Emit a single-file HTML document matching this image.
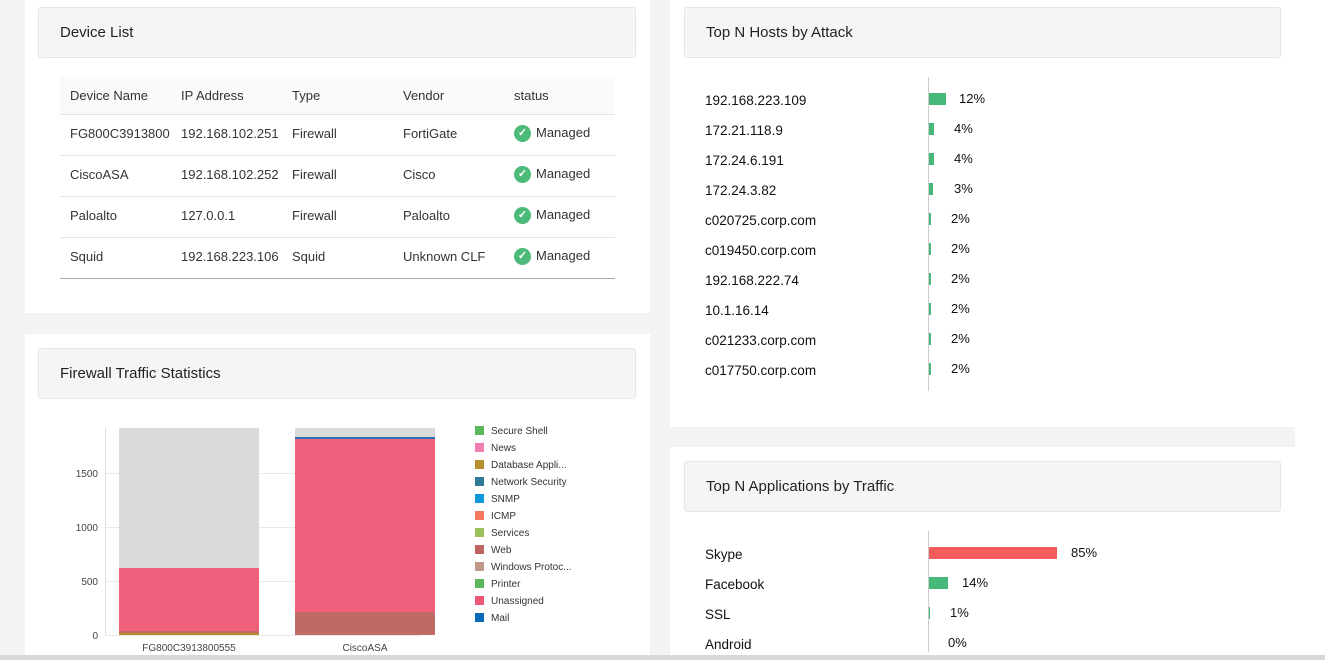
<!DOCTYPE html>
<html><head><meta charset="utf-8"><style>
*{margin:0;padding:0;box-sizing:border-box}
body{width:1325px;height:660px;overflow:hidden;background:#f3f3f5;font-family:"Liberation Sans",sans-serif;color:#222;position:relative}
.card{position:absolute;background:#fff}
.hd{position:absolute;background:#f5f5f5;border:1px solid #e6e6e6;border-radius:3px;font-size:15px;color:#222;padding-left:21px;line-height:49px}
.a{position:absolute;white-space:nowrap}
.t{font-size:13px;color:#333}
.rowline{position:absolute;left:60px;width:555px;height:1px;background:#e3e3e3}
.chk{display:inline-block;width:17px;height:17px;border-radius:50%;background:#4cbb7a;color:#fff;font-size:11px;line-height:17px;text-align:center;vertical-align:middle;margin-right:5px;font-weight:bold}
.host{font-size:13.5px;color:#111}
.pct{font-size:13px;color:#111}
.lg{position:absolute;left:475px;font-size:10px;color:#333;white-space:nowrap}
.lg i{display:inline-block;width:9px;height:9px;vertical-align:-1px;margin-right:7px}
</style></head><body>

<div class="card" style="left:25px;top:0;width:625px;height:313px"></div>
<div class="card" style="left:25px;top:334px;width:625px;height:326px"></div>
<div class="card" style="left:670px;top:0;width:625px;height:427px"></div>
<div class="card" style="left:670px;top:447px;width:625px;height:213px"></div>
<div style="position:absolute;left:1295px;top:0;width:30px;height:660px;background:#fff"></div>

<div class="hd" style="left:38px;top:7px;width:598px;height:51px">Device List</div>
<div class="hd" style="left:38px;top:348px;width:598px;height:51px">Firewall Traffic Statistics</div>
<div class="hd" style="left:684px;top:7px;width:597px;height:51px">Top N Hosts by Attack</div>
<div class="hd" style="left:684px;top:461px;width:597px;height:51px">Top N Applications by Traffic</div>

<!-- table -->
<div style="position:absolute;left:60px;top:77px;width:555px;height:37px;background:#fafafa"></div>
<div class="rowline" style="top:114px"></div>
<div class="rowline" style="top:155px"></div>
<div class="rowline" style="top:196px"></div>
<div class="rowline" style="top:237px"></div>
<div class="rowline" style="top:278px;background:#aaa"></div>
<div class="a t" style="left:70px;top:88px">Device Name</div>
<div class="a t" style="left:181px;top:88px">IP Address</div>
<div class="a t" style="left:292px;top:88px">Type</div>
<div class="a t" style="left:403px;top:88px">Vendor</div>
<div class="a t" style="left:514px;top:88px">status</div>

<div class="a t" style="left:70px;top:126px">FG800C3913800</div>
<div class="a t" style="left:181px;top:126px">192.168.102.251</div>
<div class="a t" style="left:292px;top:126px">Firewall</div>
<div class="a t" style="left:403px;top:126px">FortiGate</div>
<div class="a t" style="left:514px;top:125px"><span class="chk">✓</span>Managed</div>

<div class="a t" style="left:70px;top:167px">CiscoASA</div>
<div class="a t" style="left:181px;top:167px">192.168.102.252</div>
<div class="a t" style="left:292px;top:167px">Firewall</div>
<div class="a t" style="left:403px;top:167px">Cisco</div>
<div class="a t" style="left:514px;top:166px"><span class="chk">✓</span>Managed</div>

<div class="a t" style="left:70px;top:208px">Paloalto</div>
<div class="a t" style="left:181px;top:208px">127.0.0.1</div>
<div class="a t" style="left:292px;top:208px">Firewall</div>
<div class="a t" style="left:403px;top:208px">Paloalto</div>
<div class="a t" style="left:514px;top:207px"><span class="chk">✓</span>Managed</div>

<div class="a t" style="left:70px;top:249px">Squid</div>
<div class="a t" style="left:181px;top:249px">192.168.223.106</div>
<div class="a t" style="left:292px;top:249px">Squid</div>
<div class="a t" style="left:403px;top:249px">Unknown CLF</div>
<div class="a t" style="left:514px;top:248px"><span class="chk">✓</span>Managed</div>

<!-- chart -->
<svg style="position:absolute;left:0;top:0" width="1325" height="660">
<g stroke="#e8e8e8" stroke-width="1">
<line x1="105" y1="635.5" x2="421" y2="635.5"/>
<line x1="105" y1="581.5" x2="421" y2="581.5"/>
<line x1="105" y1="527.5" x2="421" y2="527.5"/>
<line x1="105" y1="473.5" x2="421" y2="473.5"/>
</g>
<line x1="105.5" y1="428" x2="105.5" y2="635" stroke="#ddd"/>
<rect x="119" y="428" width="140" height="140" fill="#dadada"/>
<rect x="119" y="568" width="140" height="63" fill="#ee607b"/>
<rect x="119" y="631" width="140" height="4" fill="#bf6a64"/>
<rect x="119" y="633" width="140" height="2" fill="#b58c2c"/>
<rect x="295" y="428" width="140" height="9" fill="#dadada"/>
<rect x="295" y="437" width="140" height="2" fill="#2b6fb5"/>
<rect x="295" y="439" width="140" height="173" fill="#ee607b"/>
<rect x="295" y="612" width="140" height="23" fill="#c06a66"/>
<g font-family="Liberation Sans" font-size="10" fill="#444" text-anchor="end">
<text x="98" y="477">1500</text><text x="98" y="531">1000</text><text x="98" y="585">500</text><text x="98" y="639">0</text>
</g>
<g font-family="Liberation Sans" font-size="10" fill="#444" text-anchor="middle">
<text x="189" y="651">FG800C3913800555</text><text x="365" y="651">CiscoASA</text>
</g>
<!-- right axes -->
<line x1="928.5" y1="77" x2="928.5" y2="391" stroke="#ccc"/>
<line x1="928.5" y1="531" x2="928.5" y2="652" stroke="#ccc"/>
<g fill="#46b97a">
<rect x="929" y="93" width="17" height="12"/>
<rect x="929" y="123" width="5" height="12"/>
<rect x="929" y="153" width="5" height="12"/>
<rect x="929" y="183" width="4" height="12"/>
<rect x="929" y="213" width="2" height="12"/>
<rect x="929" y="243" width="2" height="12"/>
<rect x="929" y="273" width="2" height="12"/>
<rect x="929" y="303" width="2" height="12"/>
<rect x="929" y="333" width="2" height="12"/>
<rect x="929" y="363" width="2" height="12"/>
<rect x="929" y="577" width="19" height="12"/>
<rect x="929" y="607" width="1" height="12"/>
</g>
<rect x="929" y="547" width="128" height="12" fill="#f25c5c"/>
<rect x="0" y="655" width="1325" height="5" fill="#d8d8d8"/>
</svg>

<div class="lg" style="top:426px"><i style="background:#5cb85c"></i>Secure Shell</div>
<div class="lg" style="top:443px"><i style="background:#f07fb0"></i>News</div>
<div class="lg" style="top:460px"><i style="background:#b5902c"></i>Database Appli...</div>
<div class="lg" style="top:477px"><i style="background:#2f7a96"></i>Network Security</div>
<div class="lg" style="top:494px"><i style="background:#0f97dc"></i>SNMP</div>
<div class="lg" style="top:511px"><i style="background:#f8775f"></i>ICMP</div>
<div class="lg" style="top:528px"><i style="background:#9cc15a"></i>Services</div>
<div class="lg" style="top:545px"><i style="background:#c06461"></i>Web</div>
<div class="lg" style="top:562px"><i style="background:#c0998a"></i>Windows Protoc...</div>
<div class="lg" style="top:579px"><i style="background:#5cb85c"></i>Printer</div>
<div class="lg" style="top:596px"><i style="background:#ee5878"></i>Unassigned</div>
<div class="lg" style="top:613px"><i style="background:#0a6ab8"></i>Mail</div>

<div class="a host" style="left:705px;top:93px">192.168.223.109</div>
<div class="a host" style="left:705px;top:123px">172.21.118.9</div>
<div class="a host" style="left:705px;top:153px">172.24.6.191</div>
<div class="a host" style="left:705px;top:183px">172.24.3.82</div>
<div class="a host" style="left:705px;top:213px">c020725.corp.com</div>
<div class="a host" style="left:705px;top:243px">c019450.corp.com</div>
<div class="a host" style="left:705px;top:273px">192.168.222.74</div>
<div class="a host" style="left:705px;top:303px">10.1.16.14</div>
<div class="a host" style="left:705px;top:333px">c021233.corp.com</div>
<div class="a host" style="left:705px;top:363px">c017750.corp.com</div>
<div class="a pct" style="left:959px;top:91px">12%</div>
<div class="a pct" style="left:954px;top:121px">4%</div>
<div class="a pct" style="left:954px;top:151px">4%</div>
<div class="a pct" style="left:954px;top:181px">3%</div>
<div class="a pct" style="left:951px;top:211px">2%</div>
<div class="a pct" style="left:951px;top:241px">2%</div>
<div class="a pct" style="left:951px;top:271px">2%</div>
<div class="a pct" style="left:951px;top:301px">2%</div>
<div class="a pct" style="left:951px;top:331px">2%</div>
<div class="a pct" style="left:951px;top:361px">2%</div>

<div class="a host" style="left:705px;top:547px">Skype</div>
<div class="a host" style="left:705px;top:577px">Facebook</div>
<div class="a host" style="left:705px;top:607px">SSL</div>
<div class="a host" style="left:705px;top:637px">Android</div>
<div class="a pct" style="left:1071px;top:545px">85%</div>
<div class="a pct" style="left:962px;top:575px">14%</div>
<div class="a pct" style="left:950px;top:605px">1%</div>
<div class="a pct" style="left:948px;top:635px">0%</div>
</body></html>
